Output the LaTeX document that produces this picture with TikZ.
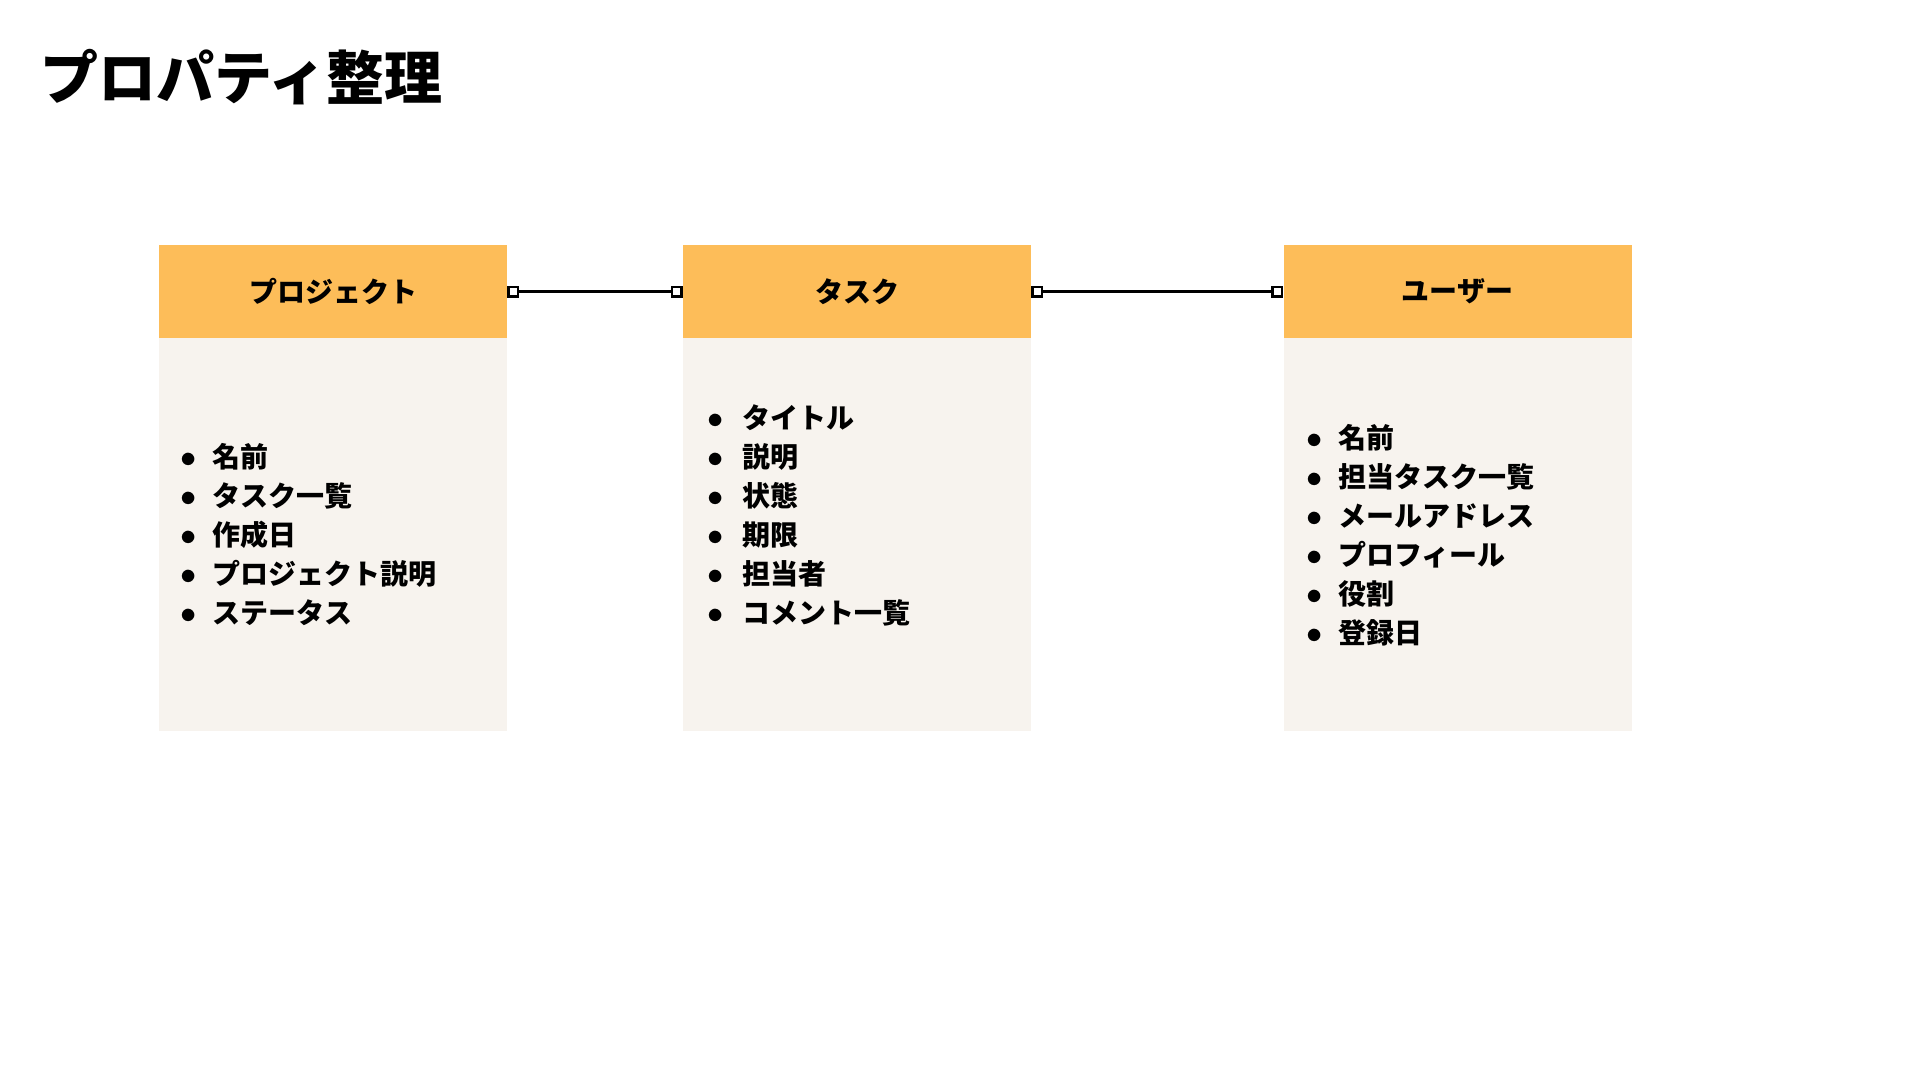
\documentclass[tikz,border=0pt]{standalone}
\usepackage{fontspec}
\setmainfont{Noto Sans CJK JP}
\usepackage{tikz}
\usetikzlibrary{
  arrows.meta,
  positioning
}
\definecolor{headOrange}{HTML}{FDBD59}
\definecolor{bodyCream}{HTML}{F7F3EE}
\definecolor{textdark}{HTML}{000000}
\newcommand{\dotitem}{\makebox[32pt][l]{\scalebox{1.3}{$\bullet$}}}
\tikzset{
  headbox/.style={
    rectangle, fill=headOrange, draw=none,
    minimum width=348pt, minimum height=93pt,
    font=\bfseries\fontsize{28}{34}\selectfont, text=textdark,
    inner sep=0pt,
  },
  bodybox/.style={
    rectangle, fill=bodyCream, draw=none,
    minimum width=348pt, minimum height=393pt,
    inner sep=0pt,
  },
  itemlist/.style={
    anchor=west, align=left, inner sep=0pt,
    font=\bfseries\fontsize{28}{39}\selectfont, text=textdark,
  },
  link/.style={
    {Square[length=12pt,width=12pt,fill=white,line width=2.6pt]}-{Square[length=12pt,width=12pt,fill=white,line width=2.6pt]},
    line width=2.6pt, draw=textdark,
  },
}

\begin{document}
\begin{tikzpicture}[x=1pt,y=-1pt]
  \useasboundingbox[fill=white] (0,0) rectangle (1920,1080);

  % ─── Title ────────────────────────────────────────────────────────────
  \node[anchor=west, inner sep=0pt, font=\bfseries\fontsize{58}{64}\selectfont]
    (title) at (40,77) {プロパティ整理};

  % ─── Project ─────────────────────────────────────────────────────────
  \node[headbox] (projhead) at (333,291.5) {プロジェクト};
  \node[bodybox, below=0pt of projhead] (projbody) {};
  \node[itemlist] (projlist) at (180,535)
    {\dotitem 名前\\ \dotitem タスク一覧\\ \dotitem 作成日\\
     \dotitem プロジェクト説明\\ \dotitem ステータス};

  % ─── Task ────────────────────────────────────────────────────────────
  \node[headbox] (taskhead) at (857,291.5) {タスク};
  \node[bodybox, below=0pt of taskhead] (taskbody) {};
  \node[itemlist] (tasklist) at (707,515.5)
    {\dotitem\hspace{3pt}タイトル\\ \dotitem\hspace{3pt}説明\\ \dotitem\hspace{3pt}状態\\
     \dotitem\hspace{3pt}期限\\ \dotitem\hspace{3pt}担当者\\ \dotitem\hspace{3pt}コメント一覧};

  % ─── User ────────────────────────────────────────────────────────────
  \node[headbox] (userhead) at (1457.5,291.5) {ユーザー};
  \node[bodybox, below=0pt of userhead] (userbody) {};
  \node[itemlist] (userlist) at (1306,535)
    {\dotitem 名前\\ \dotitem 担当タスク一覧\\ \dotitem メールアドレス\\
     \dotitem プロフィール\\ \dotitem 役割\\ \dotitem 登録日};

  % Links between entities
  \draw[link] (projhead.east) -- (taskhead.west);
  \draw[link] (taskhead.east) -- (userhead.west);

\end{tikzpicture}
\end{document}
